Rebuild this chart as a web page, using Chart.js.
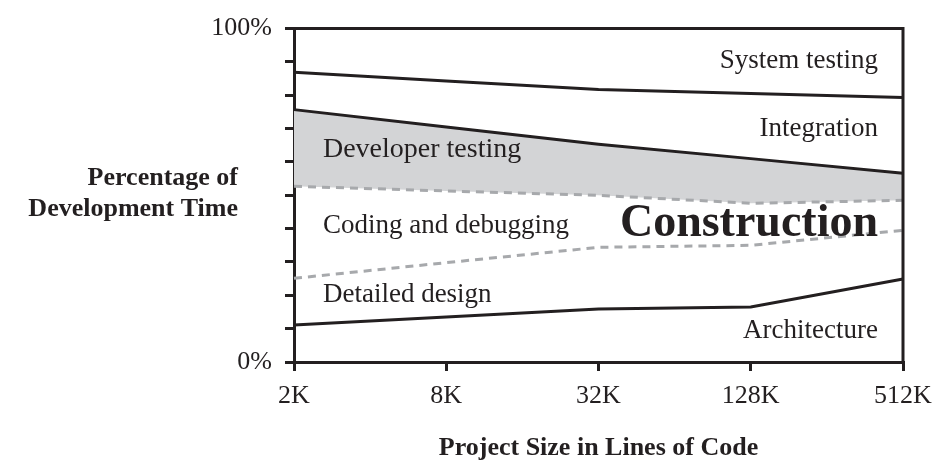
<!DOCTYPE html>
<html>
<head>
<meta charset="utf-8">
<script src="https://cdn.jsdelivr.net/npm/chart.js@4"></script>
<style>
  html, body { margin: 0; padding: 0; background: #ffffff; }
  #wrap { width: 944px; height: 474px; }
</style>
</head>
<body>
<div id="wrap"><canvas id="c" width="944" height="474"></canvas></div>
<script>
// ---- data (cumulative percentage of development time, top edge of each activity) ----
const projectSizes        = ['2K', '8K', '32K', '128K', '512K'];
const architectureTop     = [11.1, 13.5, 15.9, 16.5, 24.9];
const detailedDesignTop   = [25.1, 29.8, 34.4, 35.0, 39.5];
const codingDebuggingTop  = [52.7, 51.3, 50.0, 47.6, 48.5];
const developerTestingTop = [75.7, 70.5, 65.3, 61.0, 56.6];
const integrationTop      = [86.9, 84.3, 81.7, 80.5, 79.3];
const yTickLabels         = { 0: '0%', 100: '100%' };

// ---- styling / annotation layout (not data) ----
const INK = '#231f20';
const DASH_GREY = '#a7a9ac';
const SHADE = '#d3d4d6';
const SERIF = '"Liberation Serif", "DejaVu Serif", serif';

const regionLabels = [
  { text: 'System testing',       x: 3.836, y: 88.3, align: 'right', size: 27, weight: 'normal' },
  { text: 'Integration',          x: 3.836, y: 67.7, align: 'right', size: 27, weight: 'normal' },
  { text: 'Developer testing',    x: 0.19,  y: 61.4, align: 'left',  size: 28, weight: 'normal' },
  { text: 'Coding and debugging', x: 0.19,  y: 38.6, align: 'left',  size: 27, weight: 'normal' },
  { text: 'Detailed design',      x: 0.19,  y: 18.0, align: 'left',  size: 27, weight: 'normal' },
  { text: 'Architecture',         x: 3.836, y: 7.2,  align: 'right', size: 27, weight: 'normal' },
  { text: 'Construction',         x: 3.836, y: 37.7, align: 'right', size: 46, weight: 'bold' }
];
const yTitleLines = ['Percentage of', 'Development Time'];

const solid = (data) => ({
  data, borderColor: INK, borderWidth: 3, pointRadius: 0, tension: 0, fill: false, order: 0,
  borderCapStyle: 'butt'
});
const dashed = (data) => ({
  data, borderColor: DASH_GREY, borderWidth: 3, borderDash: [8, 6], pointRadius: 0, tension: 0,
  fill: false, order: 0, borderCapStyle: 'butt'
});

const devTesting = solid(developerTestingTop);
devTesting.fill = { target: 3 };
devTesting.backgroundColor = SHADE;
devTesting.order = 10;

const datasets = [
  solid(integrationTop),        // 0
  devTesting,                   // 1 (shaded down to dataset 3)
  dashed(detailedDesignTop),    // 2
  dashed(codingDebuggingTop),   // 3
  solid(architectureTop)        // 4
];

const framePlugin = {
  id: 'frame',
  afterDatasetsDraw(chart) {
    const { ctx, chartArea: a } = chart;
    ctx.save();
    ctx.strokeStyle = INK;
    ctx.lineWidth = 3;
    ctx.beginPath();
    ctx.moveTo(a.left, a.top);
    ctx.lineTo(a.right, a.top);
    ctx.lineTo(a.right, a.bottom);
    ctx.stroke();
    ctx.restore();
  },
  afterDraw(chart) {
    const { ctx, chartArea: a, scales } = chart;
    const xs = scales.x, ys = scales.y;
    ctx.save();
    ctx.fillStyle = INK;
    ctx.textBaseline = 'alphabetic';
    regionLabels.forEach(l => {
      ctx.font = `${l.weight} ${l.size}px ${SERIF}`;
      ctx.textAlign = l.align;
      ctx.fillText(l.text, xs.getPixelForValue(l.x), ys.getPixelForValue(l.y));
    });
    // horizontal two-line y-axis title
    ctx.font = `bold 26px ${SERIF}`;
    ctx.textAlign = 'right';
    const tx = a.left - 56;
    ctx.fillText(yTitleLines[0], tx, ys.getPixelForValue(53.0));
    ctx.fillText(yTitleLines[1], tx, ys.getPixelForValue(43.7));
    ctx.restore();
  }
};

new Chart(document.getElementById('c'), {
  type: 'line',
  data: { labels: projectSizes, datasets },
  options: {
    responsive: false,
    animation: false,
    layout: { padding: { left: 0, right: 41, top: 28, bottom: 0 } },
    plugins: { legend: { display: false }, tooltip: { enabled: false } },
    scales: {
      x: {
        type: 'category',
        offset: false,
        grid: { offset: false, drawOnChartArea: false, color: INK, lineWidth: 3, tickLength: 9, tickWidth: 3, tickColor: INK },
        border: { display: true, color: INK, width: 3 },
        ticks: { color: INK, font: { family: SERIF, size: 26 }, padding: 10, maxRotation: 0, autoSkip: false },
        title: {
          display: true, text: 'Project Size in Lines of Code', color: INK,
          font: { family: SERIF, size: 26, weight: 'bold' }, padding: { top: 0, bottom: 10 }
        },
        afterFit(scale) { scale.height = 112; }
      },
      y: {
        min: 0, max: 100,
        grid: { drawOnChartArea: false, color: INK, lineWidth: 3, tickLength: 9, tickWidth: 3, tickColor: INK },
        border: { display: true, color: INK, width: 3 },
        ticks: {
          stepSize: 10, autoSkip: false, color: INK, font: { family: SERIF, size: 26 }, padding: 13,
          callback: (v) => (yTickLabels[v] !== undefined ? yTickLabels[v] : '')
        },
        afterFit(scale) { scale.width = 294; }
      }
    }
  },
  plugins: [framePlugin]
});
</script>
</body>
</html>
